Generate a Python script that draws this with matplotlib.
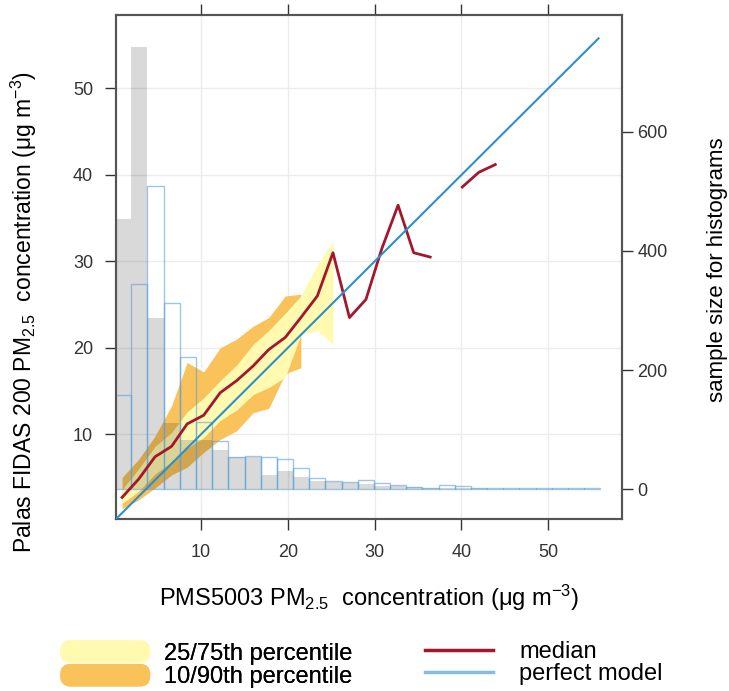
"""Conditional quantile plot: PMS5003 vs Palas FIDAS 200 PM2.5, with sample-size histograms."""
import numpy as np
import matplotlib

matplotlib.use("Agg")
import matplotlib.pyplot as plt
from matplotlib.patches import Patch, FancyBboxPatch
from matplotlib.lines import Line2D
from matplotlib.legend_handler import HandlerPatch

plt.rcParams["font.family"] = ["Liberation Sans", "DejaVu Sans"]
plt.rcParams["mathtext.default"] = "regular"

# bin midpoints (PMS5003, ug m-3) and quantiles of Palas FIDAS 200 in each bin
bin_mid = [0.9, 2.8, 4.7, 6.6, 8.4, 10.3, 12.2, 14.1, 16.0, 17.8, 19.7, 21.5,
           23.4, 25.2, 27.1, 29.0, 30.8, 32.7, 34.5, 36.4, 38.3, 40.1, 42.0, 43.9]
median = [2.7, 4.8, 7.4, 8.6, 11.2, 12.2, 14.8, 16.2, 17.9, 19.8, 21.2, 23.5,
          26.0, 31.0, 23.5, 25.6, 31.4, 36.5, 31.0, 30.5, np.nan, 38.6, 40.3, 41.2]
q10 = [1.4, 2.4, 3.8, 5.3, 6.2, 7.9, 9.4, 10.4, 12.5, 13.0, 17.0, 17.7]
q90 = [5.0, 7.1, 9.8, 13.3, 18.3, 17.2, 20.0, 21.0, 22.5, 23.5, 26.0, 26.2]
q25 = [2.0, 3.4, 5.4, 6.8, 8.4, 9.6, 11.6, 12.8, 14.6, 15.4, 16.6, 21.5, 22.0, 20.4]
q75 = [3.6, 6.0, 8.6, 10.2, 12.6, 14.2, 16.2, 18.0, 20.4, 22.0, 24.0, 26.0, 29.6, 32.3]

perfect = [0.2, 55.8]

# histograms: 30 equal bins between the data limits
hist_lo, hist_hi, n_bins = 0.1, 56.0, 30
count_mod = [454, 743, 288, 111, 82, 82, 66, 53, 54, 24, 31, 21, 13, 12, 9.5,
             8, 5, 4.5, 3, 2, 1.5, 1, 1, 0.5, 0.5, 0.5, 0.5, 0.5, 0.5, 0.5]
count_obs = [158, 344, 510, 313, 222, 113, 81, 53, 55, 54, 50, 35, 19, 14, 11,
             15, 10, 7, 4, 2, 6, 4.5, 2.5, 1.5, 1, 1, 1, 1, 1, 1]

YEL, ORA, RED, BLUE = "#fffab0", "#f9c25a", "#a3172e", "#2e8fcc"
FRAME = "#555555"
W, H = 729, 691


def rounded(legend, orig_handle, xdescent, ydescent, width, height, fontsize):
    return FancyBboxPatch((-xdescent, -ydescent), width, height,
                          boxstyle="round,pad=0,rounding_size=%f" % (height / 2.2))


def main():
    fig = plt.figure(figsize=(W / 100, H / 100), dpi=100)
    ax = fig.add_axes([116 / W, 1 - 519 / H, 506 / W, 504 / H])
    ax2 = ax.twinx()

    lim = (0.2, 58.5)
    ax.set_xlim(lim)
    ax.set_ylim(lim)

    ticks = [10, 20, 30, 40, 50]
    ax.set_xticks(ticks)
    ax.set_yticks(ticks)
    ax.grid(True, color="#ececec", lw=1)
    ax.set_axisbelow(True)

    # quantile bands
    n10 = len(q10)
    n25 = len(q25)
    ax.fill_between(bin_mid[:n10], q10, q90, color=ORA, lw=0, zorder=1)
    ax.fill_between(bin_mid[:n25], q25, q75, color=YEL, lw=0, zorder=2)

    # histograms on the second y scale
    edges = np.linspace(hist_lo, hist_hi, n_bins + 1)
    w = np.diff(edges)
    ax2.bar(edges[:-1], count_mod, width=w, align="edge", color="black",
            alpha=0.15, lw=0, zorder=1)
    ax2.bar(edges[:-1], count_obs, width=w, align="edge", facecolor="none",
            edgecolor="#5f9fd6", lw=1.0, alpha=0.6, zorder=2)

    # median and perfect model drawn above the histograms, in the left scale
    ax2.plot(bin_mid, median, color=RED, lw=2.0, transform=ax.transData, zorder=3)
    ax2.plot(perfect, perfect, color=BLUE, lw=1.5, transform=ax.transData, zorder=4)
    ax2.set_ylim(-50.4, 796.6)
    ax2.set_yticks([0, 200, 400, 600])

    for a in (ax, ax2):
        for s in a.spines.values():
            s.set_color(FRAME)
            s.set_linewidth(1.5)
    ax.tick_params(direction="out", length=8, width=1, colors="#333333",
                   labelsize=13, top=True, labeltop=False)
    ax.tick_params(axis="x", pad=10)
    ax.tick_params(axis="y", pad=8.5)
    ax2.tick_params(direction="out", length=8, width=1, colors="#333333",
                    labelsize=13, pad=3)

    ax.set_xlabel(r"PMS5003 PM$_{2.5}$  concentration (μg m$^{-3}$)",
                  fontsize=17, labelpad=16)
    ax.set_ylabel(r"Palas FIDAS 200 PM$_{2.5}$  concentration (μg m$^{-3}$)",
                  fontsize=16.5)
    ax.yaxis.set_label_coords(-0.152, 0.41)
    ax2.set_ylabel("sample size for histograms", fontsize=16)
    ax2.yaxis.set_label_coords(1.167, 0.494)

    common = dict(frameon=False, fontsize=17, loc="upper left", borderpad=0,
                  borderaxespad=0, labelspacing=0.0)
    leg1 = fig.legend([Patch(color=YEL), Patch(color=ORA)],
                      ["25/75th percentile", "10/90th percentile"],
                      bbox_to_anchor=(61 / W, 1 - 641 / H),
                      handler_map={Patch: HandlerPatch(patch_func=rounded)},
                      handlelength=3.75, handleheight=1.0, handletextpad=0.6, **common)
    fig.legend([Line2D([], [], color=RED, lw=2.5), Line2D([], [], color="#86bbe3", lw=2.5)],
               ["median", "perfect model"],
               bbox_to_anchor=(425 / W, 1 - 641 / H),
               handlelength=2.9, handletextpad=1.1, **common)
    fig.add_artist(leg1)

    fig.savefig("out.png", dpi=100)


if __name__ == "__main__":
    main()
